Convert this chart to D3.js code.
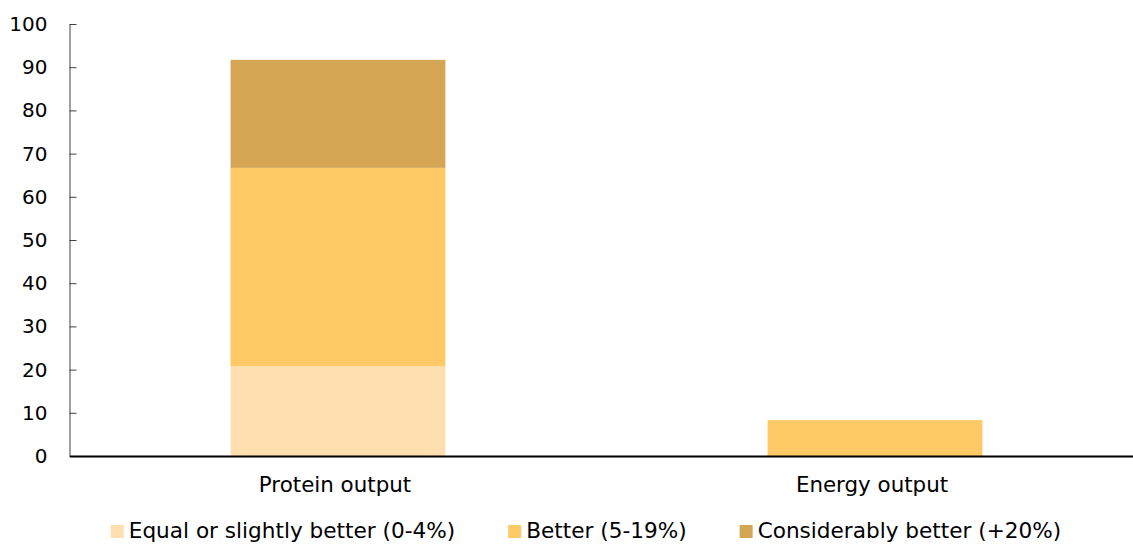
<!DOCTYPE html>
<html>
<head>
<meta charset="utf-8">
<script src="https://cdn.jsdelivr.net/npm/d3@7"></script>
<style>
  body { margin: 0; background: #fff; }
  svg { display: block; font-family: "DejaVu Sans", Verdana, sans-serif; }
</style>
</head>
<body>
<svg id="chart"></svg>
<script>
const WIDTH = 1133;
const HEIGHT = 544;

const categories = ["Protein output", "Energy output"];
const seriesNames = ["Equal or slightly better (0-4%)", "Better (5-19%)", "Considerably better (+20%)"];
const equalValues = [20.8, 0];
const betterValues = [45.9, 8.3];
const considerablyValues = [25.0, 0];
const yTicks = [0, 10, 20, 30, 40, 50, 60, 70, 80, 90, 100];
const colors = ["#ffdeb0", "#ffc966", "#d4a653"];

const rows = categories.map((c, i) => ({
   category: c,
   s0: equalValues[i],
   s1: betterValues[i],
   s2: considerablyValues[i]
}));
const stack = d3.stack().keys(["s0", "s1", "s2"])(rows);

const svg = d3.select("#chart").attr("width", WIDTH).attr("height", HEIGHT);

const xScale = d3.scaleBand()
   .domain(categories)
   .range([69.5, 1143.5])
   .paddingInner(0.6)
   .paddingOuter(0.3);
const yScale = d3.scaleLinear()
   .domain([0, 100])
   .range([456, 24]);

// bars
svg.append("g")
   .selectAll("g")
   .data(stack)
   .join("g")
   .attr("fill", (_, i) => colors[i])
   .selectAll("rect")
   .data(d => d)
   .join("rect")
   .attr("x", d => xScale(d.data.category))
   .attr("width", xScale.bandwidth())
   .attr("y", d => yScale(d[1]))
   .attr("height", d => yScale(d[0]) - yScale(d[1]));

// y axis, ticks point inward
const gy = svg.append("g")
   .attr("transform", "translate(69.5,0)")
   .call(d3.axisLeft(yScale).tickValues(yTicks).tickSizeInner(-7).tickSizeOuter(0).tickPadding(22))
   .attr("font-family", null)
   .attr("font-size", 20);
gy.select(".domain").attr("stroke", "#404040");
gy.selectAll(".tick line").attr("stroke", "#404040");
gy.selectAll("text").attr("fill", "#000");

// x axis
const gx = svg.append("g")
   .attr("transform", "translate(0,456)")
   .call(d3.axisBottom(xScale).tickSize(0).tickPadding(21))
   .attr("font-family", null)
   .attr("font-size", 21.4);
gx.select(".domain").attr("stroke", "#000").attr("stroke-width", 2);
gx.selectAll("text").attr("fill", "#000").attr("dx", -3);

// legend
const legend = svg.append("g");
const items = legend.selectAll("g")
   .data(seriesNames)
   .join("g");
items.append("rect")
   .attr("width", 13)
   .attr("height", 13)
   .attr("y", 525)
   .attr("fill", (_, i) => colors[i]);
items.append("text")
   .attr("x", 18)
   .attr("y", 538)
   .attr("font-size", 21.6)
   .attr("fill", "#000")
   .text(d => d);

let cursor = 0;
const offsets = [];
items.each(function () {
   offsets.push(cursor);
   const w = d3.select(this).select("text").node().getComputedTextLength();
   cursor += 18 + w + 53;
});
const totalWidth = cursor - 53;
const startX = 586 - totalWidth / 2;
items.attr("transform", (_, i) => `translate(${startX + offsets[i]},0)`);
</script>
</body>
</html>
